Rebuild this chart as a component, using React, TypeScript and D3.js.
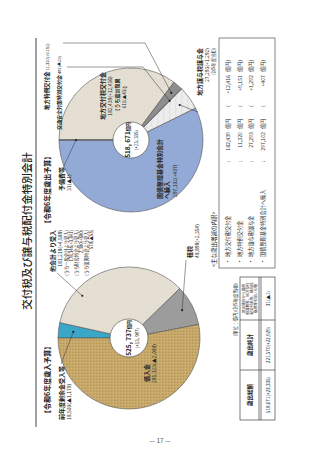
import React from "react"
import * as d3 from "d3"

const W = 320
const H = 453
const FONT = "'Noto Sans CJK JP', 'Noto Sans', sans-serif"

// 歳入（令和6年度）
const revenueNames = ["前年度剰余金受入等", "他会計より受入", "租税", "借入金"]
const revenueValues = [18500, 181218, 48898, 281123]
const revenueChanges = [-1178, 4588, 2354, -2000]
const revenueFills = ["#3aa7c9", "url(#cream)", "#9c9c9c", "url(#sand)"]
const revenueTotal = "525, 737"
const revenueTotalChange = "+13, 987"
const otherAccountLines = [
  "(うち一般会計より受入)", "178,348(+3,841)",
  "(うち財投特会より受入)", "2,300(+800)",
  "(うち復興特会より受入)", "570(▲53)",
]

// 歳出（令和6年度）
const expenditureNames = ["地方交付税交付金", "地方特例交付金", "交通安全対策特別交付金", "地方譲与税譲与金", "国債整理基金特別会計へ繰入", "予備費等"]
const expenditureValues = [182439, 11320, 487, 27293, 297102, 31]
const expenditureChanges = [12416, 9151, -29, 1292, 407, -1]
const expenditureFills = ["url(#cream)", "#8d8d8d", "#b4b4b4", "url(#marble)", "#93aad6", "#777"]
const expenditureTotal = "518, 671"
const expenditureTotalChange = "+23, 335"

// 主な歳出増減の内訳
const breakdownNames = ["地方交付税交付金", "地方特例交付金", "地方譲与税譲与金", "国債整理基金特別会計へ繰入"]
const breakdownAmounts = [182439, 11320, 27293, 297102]
const breakdownChanges = [12416, 9151, 1292, 407]

// 歳出総額・純計
const summaryHeaders = ["歳出総額", "歳出純計"]
const summaryNote = ["歳出純計から国債", "償還費等、地方交付", "税交付金等、財政投", "融資等を除いた額"]
const summaryValues = ["518,671(+23,335)", "221,570(+22,929)", "31(▲1)"]

const fmt = d3.format(",")
const chg = (v: number) => (v < 0 ? `▲${fmt(-v)}` : `+${fmt(v)}`)

type Arc = d3.PieArcDatum<number>

const onArc = (a: Arc, t: number, r: number, c: number[]) => {
  const m = a.startAngle + (a.endAngle - a.startAngle) * t
  return [c[0] + r * Math.sin(m), c[1] - r * Math.cos(m)]
}

const Dot = ({ p }: { p: number[] }) => <circle cx={p[0]} cy={p[1]} r={1.1} fill="#222" />

export default function App() {
  const pie = d3.pie<number>().sort(null).value((d) => d)
  const revArcs = pie(revenueValues)
  const expArcs = pie(expenditureValues)
  const revC = [115, 129]
  const expC = [313, 131]
  const revArc = d3.arc<Arc>().innerRadius(0).outerRadius(71)
  const expArc = d3.arc<Arc>().innerRadius(0).outerRadius(72)
  const line = d3.line()

  const revDots = [
    onArc(revArcs[0], 0.5, 56, revC),
    onArc(revArcs[1], 0.24, 63, revC),
    onArc(revArcs[2], 0.5, 60, revC),
  ]
  const expDots = [
    onArc(expArcs[5], 0.5, 55, expC),
    onArc(expArcs[1], 0.5, 62, expC),
    onArc(expArcs[2], 0.5, 55, expC),
    onArc(expArcs[3], 0.5, 60, expC),
  ]

  const bold = { fontWeight: 700 }

  return (
    <svg width={W} height={H} style={{ position: "absolute", left: 0, top: 0, background: "#fff" }} fontFamily={FONT}>
      <defs>
        <pattern id="cream" width="4" height="4" patternUnits="userSpaceOnUse">
          <rect width="4" height="4" fill="#e6e0d4" />
          <circle cx="1" cy="1" r="0.45" fill="#cbc2b0" />
          <circle cx="3" cy="2.6" r="0.4" fill="#d4ccbb" />
        </pattern>
        <pattern id="sand" width="3" height="3" patternUnits="userSpaceOnUse">
          <rect width="3" height="3" fill="#c9aa6a" />
          <circle cx="0.8" cy="0.8" r="0.5" fill="#957846" />
          <circle cx="2.2" cy="2.1" r="0.45" fill="#e0c88e" />
        </pattern>
        <pattern id="marble" width="6" height="6" patternUnits="userSpaceOnUse">
          <rect width="6" height="6" fill="#ededed" />
          <path d="M0 4 L3 2 L6 3" stroke="#d2d2d2" strokeWidth="0.6" fill="none" />
        </pattern>
      </defs>

      <g transform={`translate(0,${H}) rotate(-90)`} fill="#222">
        <text x={222} y={31} fontSize={10.5} textAnchor="middle" fontWeight={500}>交付税及び譲与税配付金特別会計</text>
        <line x1={26} x2={415} y1={36} y2={36} stroke="#8a8a8a" strokeWidth={1.6} />

        <text x={36} y={50} fontSize={7} style={bold}>【令和6年度歳入予算】</text>
        <text x={226} y={50} fontSize={7} style={bold}>【令和6年度歳出予算】</text>

        {/* 歳入 pie */}
        <g transform={`translate(${revC[0]},${revC[1]})`}>
          {revArcs.map((a, i) => (
            <path key={i} d={revArc(a) || ""} fill={revenueFills[i]} stroke="#555" strokeWidth={0.6} />
          ))}
          <circle r={19} fill="#fff" stroke="#444" strokeWidth={0.6} />
        </g>
        <text x={revC[0]} y={131} fontSize={6.5} textAnchor="middle" style={bold}>
          {revenueTotal}<tspan fontSize={4.5}>億円</tspan>
        </text>
        <text x={revC[0]} y={139} fontSize={4.5} textAnchor="middle">({revenueTotalChange})</text>

        {/* 歳出 pie */}
        <g transform={`translate(${expC[0]},${expC[1]})`}>
          {expArcs.map((a, i) => (
            <path key={i} d={expArc(a) || ""} fill={expenditureFills[i]} stroke="#555" strokeWidth={0.6} />
          ))}
          <circle r={18} fill="#fff" stroke="#444" strokeWidth={0.6} />
        </g>
        <text x={expC[0]} y={130} fontSize={6.5} textAnchor="middle" style={bold}>
          {expenditureTotal}<tspan fontSize={4.5}>億円</tspan>
        </text>
        <text x={expC[0]} y={138} fontSize={4.5} textAnchor="middle">({expenditureTotalChange})</text>

        {/* 歳入 labels */}
        <g stroke="#333" strokeWidth={0.5} fill="none">
          <path d={line([[89, 61], revDots[0] as [number, number]]) || ""} />
          <path d={line([[180, 57], revDots[1] as [number, number]]) || ""} />
          <path d={line([[193, 186], revDots[2] as [number, number]]) || ""} />
        </g>
        {revDots.map((p, i) => <Dot key={i} p={p} />)}

        <text x={33} y={64} fontSize={6} style={bold}>{revenueNames[0]}</text>
        <text x={33} y={71} fontSize={5}>{fmt(revenueValues[0])}({chg(revenueChanges[0])})</text>

        <text x={223} y={55} fontSize={6} textAnchor="end" style={bold}>{revenueNames[1]}</text>
        <text x={223} y={62} fontSize={5} textAnchor="end">{fmt(revenueValues[1])}({chg(revenueChanges[1])})</text>
        {otherAccountLines.map((s, i) => (
          <text key={i} x={223} y={67.5 + i * 5} fontSize={4.3} textAnchor="end">{s}</text>
        ))}

        <text x={195} y={192} fontSize={6} style={bold}>{revenueNames[2]}</text>
        <text x={195} y={199} fontSize={5}>{fmt(revenueValues[2])}({chg(revenueChanges[2])})</text>

        <text x={71} y={149} fontSize={6} style={bold}>{revenueNames[3]}</text>
        <text x={70} y={156} fontSize={5}>{fmt(revenueValues[3])}({chg(revenueChanges[3])})</text>

        {/* 歳出 labels */}
        <g stroke="#333" strokeWidth={0.5} fill="none">
          <path d={line([[285, 63], expDots[0] as [number, number]]) || ""} />
          <path d={line([[410, 63], [410, 145], expDots[1] as [number, number]]) || ""} />
          <path d={line([[386, 67], [386, 143], expDots[2] as [number, number]]) || ""} />
          <path d={line([[341, 198], expDots[3] as [number, number]]) || ""} />
        </g>
        {expDots.map((p, i) => <Dot key={i} p={p} />)}

        <text x={262} y={64} fontSize={6} style={bold}>{expenditureNames[5]}</text>
        <text x={262} y={71} fontSize={5}>{fmt(expenditureValues[5])}({chg(expenditureChanges[5])})</text>

        <text x={357} y={105} fontSize={6} textAnchor="middle" style={bold}>{expenditureNames[0]}</text>
        <text x={357} y={112} fontSize={5} textAnchor="middle">{fmt(expenditureValues[0])}({chg(expenditureChanges[0])})</text>
        <text x={357} y={119} fontSize={5} textAnchor="middle" style={bold}>【うち震災復興</text>
        <text x={357} y={126} fontSize={4.5} textAnchor="middle">611(▲43)】</text>

        <text x={343} y={49} fontSize={5.5} style={bold}>
          {expenditureNames[1]}<tspan fontSize={4} fontWeight={400}> {fmt(expenditureValues[1])}({chg(expenditureChanges[1])})</tspan>
        </text>
        <text x={323} y={61} fontSize={5} style={bold}>
          {expenditureNames[2]}<tspan fontSize={4} fontWeight={400}> {fmt(expenditureValues[2])}({chg(expenditureChanges[2])})</tspan>
        </text>

        <text x={405} y={202} fontSize={6} textAnchor="end" style={bold}>{expenditureNames[3]}</text>
        <text x={405} y={209} fontSize={5} textAnchor="end">{fmt(expenditureValues[3])}({chg(expenditureChanges[3])})</text>
        <text x={405} y={215} fontSize={4.3} textAnchor="end">(対5年度当初)</text>

        <text x={254} y={162} fontSize={6} style={bold}>国債整理基金特別会計</text>
        <text x={254} y={169} fontSize={6} style={bold}>へ繰入</text>
        <text x={256} y={177} fontSize={5}>{fmt(expenditureValues[4])}({chg(expenditureChanges[4])})</text>

        {/* 主な歳出増減の内訳 */}
        <text x={186} y={216} fontSize={5.5}>{"<主な歳出増減の内訳>"}</text>
        <rect x={185} y={219} width={230} height={56} fill="none" stroke="#555" strokeWidth={0.7} />
        {breakdownNames.map((n, i) => {
          const y = 230 + i * 11.6
          return (
            <g key={i} fontSize={5.2} fill="#333">
              <text x={189} y={y}>・</text>
              <text x={196} y={y}>{n}</text>
              <text x={291} y={y}>:</text>
              <text x={321} y={y} textAnchor="end">{fmt(breakdownAmounts[i])}</text>
              <text x={324} y={y}>億円</text>
              <text x={346} y={y}>(</text>
              <text x={378} y={y} textAnchor="end">{chg(breakdownChanges[i])}</text>
              <text x={381} y={y}>億円)</text>
            </g>
          )
        })}

        {/* 歳出総額表 */}
        <text x={170} y={237} fontSize={4.5} textAnchor="end">(単位：億円)(対5年度当初)</text>
        <g stroke="#444" strokeWidth={0.7} fill="none">
          <rect x={33} y={240} width={143} height={35} />
          <line x1={83} x2={83} y1={240} y2={275} />
          <line x1={133} x2={133} y1={240} y2={275} />
          <line x1={33} x2={176} y1={259} y2={259} />
          <line x1={33} x2={176} y1={261} y2={261} />
        </g>
        {summaryHeaders.map((h, i) => (
          <text key={i} x={58 + i * 50} y={252} fontSize={5.5} textAnchor="middle" style={bold}>{h}</text>
        ))}
        {summaryNote.map((s, i) => (
          <text key={i} x={154.5} y={245 + i * 4} fontSize={3.6} textAnchor="middle">{s}</text>
        ))}
        {summaryValues.map((v, i) => (
          <text key={i} x={[58, 108, 154.5][i]} y={270} fontSize={4.6} textAnchor="middle">{v}</text>
        ))}
      </g>

      <text x={160} y={443} fontSize={6.5} textAnchor="middle" fill="#555">— 17 —</text>
    </svg>
  )
}
